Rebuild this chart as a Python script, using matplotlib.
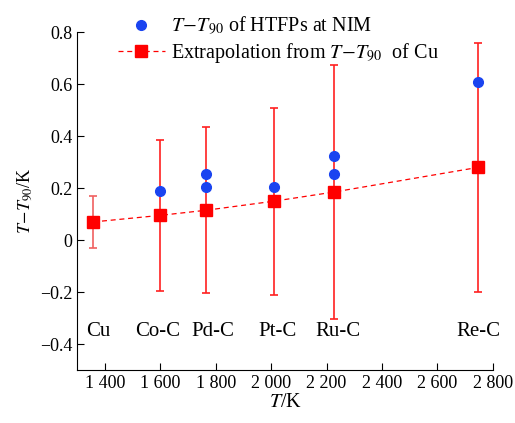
import matplotlib
matplotlib.use("Agg")
import matplotlib.pyplot as plt
from matplotlib.ticker import FuncFormatter, MultipleLocator

plt.rcParams['font.family'] = ['Liberation Serif', 'DejaVu Serif']
plt.rcParams['mathtext.fontset'] = 'stix'
plt.rcParams['font.size'] = 12

# fixed points and their temperatures (K)
names = ["Cu", "Co-C", "Pd-C", "Pt-C", "Ru-C", "Re-C"]
temps = [1357.77, 1597.4, 1765.6, 2011.3, 2226.4, 2747.8]
label_x = [1376, 1589, 1791, 2022, 2240, 2748]

# extrapolation from T-T90 of Cu, with uncertainty
extrap = [0.07, 0.095, 0.115, 0.15, 0.185, 0.28]
extrap_err = [0.10, 0.29, 0.32, 0.36, 0.49, 0.48]

# measured T-T90 of HTFPs at NIM
nim_temps = [1597.4, 1765.6, 1765.6, 2011.3, 2226.4, 2226.4, 2747.8]
nim_vals = [0.19, 0.205, 0.255, 0.205, 0.255, 0.325, 0.61]

fig = plt.figure(figsize=(5.15, 4.23), dpi=100)
ax = fig.add_axes([0.15, 0.125, 0.807, 0.799])

ax.plot(nim_temps, nim_vals, 'o', color='#1a44f0', markersize=7,
        label=r'$T\!-\!T_{90}$ of HTFPs at NIM', zorder=4)

# Cu error bar drawn lighter than the others
ax.errorbar(temps[:1], extrap[:1], yerr=extrap_err[:1], fmt='none',
            ecolor='#f06060', elinewidth=1.2, capsize=3, capthick=1.2, zorder=2)
ax.errorbar(temps[1:], extrap[1:], yerr=extrap_err[1:], fmt='none',
            ecolor='#ff2020', elinewidth=1.2, capsize=3, capthick=1.2, zorder=2)
ax.plot(temps, extrap, 's--', color='#ff0000', markersize=9, linewidth=0.9,
        dashes=(4, 3), label=r'Extrapolation from $T\!-\!T_{90}$  of Cu', zorder=3)

for lx, n in zip(label_x, names):
    ax.text(lx, -0.35, n, ha='center', va='center', fontsize=15)

ax.set_xlim(1300, 2800)
ax.set_ylim(-0.5, 0.8)
ax.xaxis.set_major_locator(MultipleLocator(200))
ax.yaxis.set_major_locator(MultipleLocator(0.2))
ax.xaxis.set_major_formatter(FuncFormatter(lambda v, p: f"{int(v):,}".replace(",", " ")))
ax.yaxis.set_major_formatter(FuncFormatter(
    lambda v, p: "0" if abs(v) < 1e-9 else f"{v:.1f}".replace("-", "\u2212")))

ax.spines['top'].set_visible(False)
ax.spines['right'].set_visible(False)
ax.tick_params(direction='in', length=5, labelsize=13)

ax.set_xlabel(r'$T$/K', fontsize=14.5, labelpad=1)
ax.set_ylabel(r'$T\!-\!T_{90}$/K', fontsize=13, labelpad=4)

ax.legend(loc='upper left', bbox_to_anchor=(0.055, 1.105), frameon=False,
          fontsize=14.5, handlelength=2.3, handletextpad=0.3, labelspacing=0.2)

fig.savefig("out.png", dpi=100)
